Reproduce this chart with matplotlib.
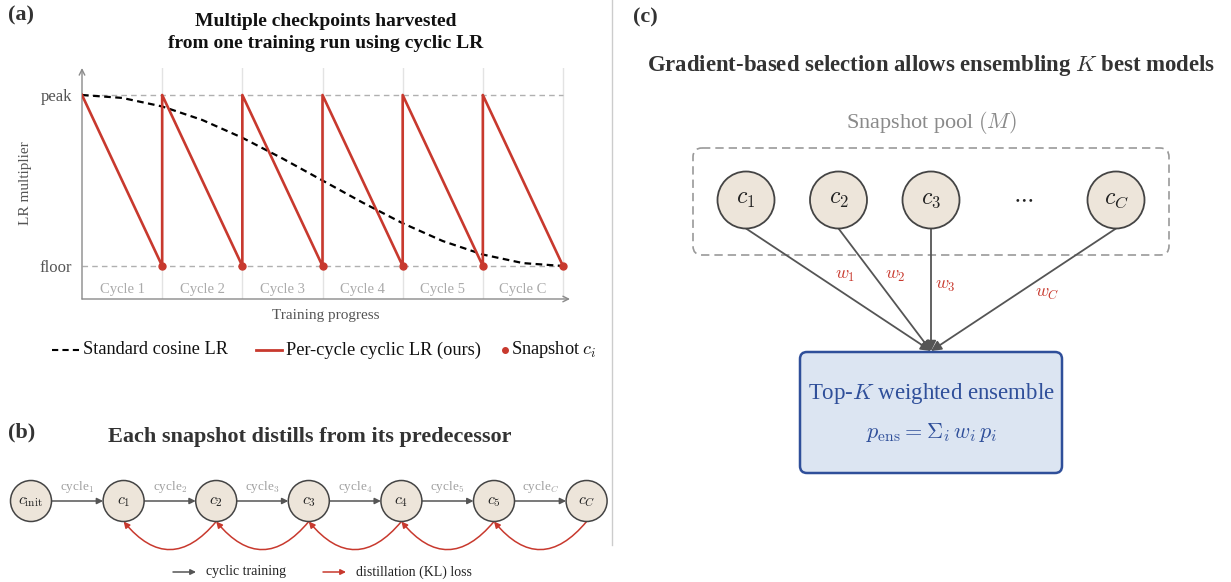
import matplotlib

matplotlib.use("Agg")
import matplotlib.pyplot as plt
from matplotlib.lines import Line2D
from matplotlib.patches import Circle, FancyArrowPatch, FancyBboxPatch

plt.rcParams["font.family"] = "serif"
plt.rcParams["font.serif"] = ["Liberation Serif", "DejaVu Serif"]
plt.rcParams["mathtext.fontset"] = "cm"

# ---- data ----
cycle_labels = ["Cycle 1", "Cycle 2", "Cycle 3", "Cycle 4", "Cycle 5", "Cycle C"]
cycle_edges = [1, 2, 3, 4, 5]
cosine_x = [0, 0.5, 1, 1.5, 2, 2.5, 3, 3.5, 4, 4.5, 5, 5.5, 6]
cosine_lr = [1.0, 0.983, 0.933, 0.854, 0.75, 0.629, 0.5, 0.371, 0.25, 0.146, 0.067, 0.017, 0.0]
cyclic_x = [0, 1, 1, 2, 2, 3, 3, 4, 4, 5, 5, 6]
cyclic_lr = [1, 0, 1, 0, 1, 0, 1, 0, 1, 0, 1, 0]
snapshot_x = [1, 2, 3, 4, 5, 6]
snapshot_lr = [0, 0, 0, 0, 0, 0]
lr_levels = [0, 1]
lr_level_names = ["floor", "peak"]

chain_nodes = [r"$c_{\mathrm{init}}$", r"$c_1$", r"$c_2$", r"$c_3$", r"$c_4$", r"$c_5$", r"$c_C$"]
chain_steps = [r"cycle$_1$", r"cycle$_2$", r"cycle$_3$", r"cycle$_4$", r"cycle$_5$", r"cycle$_C$"]
pool_nodes = [r"$c_1$", r"$c_2$", r"$c_3$", None, r"$c_C$"]
pool_weights = [r"$w_1$", r"$w_2$", r"$w_3$", None, r"$w_C$"]

RED = "#c8392e"
GRAY = "#555555"
BEIGE = "#ede5da"
BLUE = "#2f4f9a"
BLUE_FILL = "#dce5f2"
TEXT = "#333333"

W, H = 1231, 582
fig = plt.figure(figsize=(W / 100, H / 100), dpi=100)

# overlay canvas in pixel coordinates
ax0 = fig.add_axes([0, 0, 1, 1])
ax0.set_xlim(0, W)
ax0.set_ylim(H, 0)
ax0.axis("off")

# ---------------- panel (a) ----------------
x0_px, x1_px, y_top_px, y_bot_px = 82, 570, 68, 299
unit_x = (563 - 82) / 6
unit_y = 266 - 95
ax = fig.add_axes([x0_px / W, (H - y_bot_px) / H, (x1_px - x0_px) / W, (y_bot_px - y_top_px) / H])
ax.patch.set_alpha(0)
ax.set_xlim(0, (x1_px - x0_px) / unit_x)
ax.set_ylim(-(y_bot_px - 266) / unit_y, 1 + (95 - y_top_px) / unit_y)
for s in ax.spines.values():
    s.set_visible(False)

for xe in cycle_edges + [6]:
    ax.axvline(xe, color="#e3e3e3", lw=1.0, zorder=0)
for lv in lr_levels:
    ax.plot([0, 6], [lv, lv], color="#b0b0b0", lw=1.0, dashes=(4, 3), zorder=1)

ax.plot(cosine_x, cosine_lr, color="black", lw=1.6, dashes=(3, 2), zorder=3)
ax.plot(cyclic_x, cyclic_lr, color=RED, lw=1.9, zorder=4)
ax.plot(snapshot_x, snapshot_lr, "o", color=RED, ms=5, zorder=5)

for i, lab in enumerate(cycle_labels):
    ax.text(i + 0.5, -0.135, lab, ha="center", va="center", fontsize=10.5, color="#aaaaaa")

ax.set_xticks([])
ax.set_yticks(lr_levels)
ax.set_yticklabels(lr_level_names, fontsize=12, color=GRAY)
ax.tick_params(axis="y", length=0, pad=7)
ax.set_xlabel("Training progress", fontsize=11, color=GRAY, labelpad=7)
ax.set_ylabel("LR multiplier", fontsize=11, color=GRAY, labelpad=5.5)

ax.annotate("", xy=(1, 0), xytext=(0, 0), xycoords="axes fraction",
            arrowprops=dict(arrowstyle="->", color="#8a8a8a", lw=1.0, shrinkA=0, shrinkB=0))
ax.annotate("", xy=(0, 1), xytext=(0, 0), xycoords="axes fraction",
            arrowprops=dict(arrowstyle="->", color="#8a8a8a", lw=1.0, shrinkA=0, shrinkB=0))

ax0.text(8, 15, "(a)", fontsize=16, fontweight="bold", color=TEXT, ha="left", va="center")
ax0.text(326, 21, "Multiple checkpoints harvested", fontsize=14, fontweight="bold",
         color="#111111", ha="center", va="center")
ax0.text(326, 43, "from one training run using cyclic LR", fontsize=14, fontweight="bold",
         color="#111111", ha="center", va="center")

# legend of (a)
ly = 350
ax0.add_line(Line2D([52, 79], [ly, ly], color="black", lw=1.5, dashes=(3, 2)))
ax0.text(83, ly, "Standard cosine LR", fontsize=13.2, color="#111111", ha="left", va="center")
ax0.add_line(Line2D([256, 282], [ly, ly], color=RED, lw=2))
ax0.text(286, ly, "Per-cycle cyclic LR (ours)", fontsize=13.2, color="#111111", ha="left", va="center")
ax0.plot([505], [ly], "o", color=RED, ms=4)
ax0.text(511, ly, r"Snapshot $c_i$", fontsize=13.2, color="#111111", ha="left", va="center")

# divider
ax0.add_line(Line2D([612, 612], [0, 545], color="#cccccc", lw=1.0))

# ---------------- panel (b) ----------------
ax0.text(8, 432, "(b)", fontsize=16, fontweight="bold", color=TEXT, ha="left", va="center")
ax0.text(310, 437, "Each snapshot distills from its predecessor", fontsize=16, fontweight="bold",
         color=TEXT, ha="center", va="center")

cy, r_b, step_b = 501, 20.5, 92.6
chain_x = [31 + step_b * i for i in range(len(chain_nodes))]
for x, lab in zip(chain_x, chain_nodes):
    ax0.add_patch(Circle((x, cy), r_b, fc=BEIGE, ec="#444444", lw=1.1, zorder=3))
    ax0.text(x, cy, lab, fontsize=11.5, ha="center", va="center", color="#222222", zorder=4)

for i, lab in enumerate(chain_steps):
    xa, xb = chain_x[i] + r_b, chain_x[i + 1] - r_b
    ax0.add_patch(FancyArrowPatch((xa, cy), (xb, cy), arrowstyle="-|>", mutation_scale=9,
                                  color=GRAY, lw=1.1, shrinkA=0, shrinkB=0))
    ax0.text((xa + xb) / 2, cy - 14, lab, fontsize=9.5, color="#a0a0a0", ha="center", va="center")

for i in range(1, len(chain_x) - 1):
    ax0.add_patch(FancyArrowPatch((chain_x[i + 1], cy + r_b), (chain_x[i], cy + r_b),
                                  connectionstyle="arc3,rad=-0.6", arrowstyle="-|>",
                                  mutation_scale=9, color=RED, lw=1.1, shrinkA=0, shrinkB=0))

lg = 572
ax0.add_patch(FancyArrowPatch((173, lg), (196, lg), arrowstyle="-|>", mutation_scale=8,
                              color=GRAY, lw=1.1, shrinkA=0, shrinkB=0))
ax0.text(206, lg, "cyclic training", fontsize=10, color="#222222", ha="left", va="center")
ax0.add_patch(FancyArrowPatch((323, lg), (346, lg), arrowstyle="-|>", mutation_scale=8,
                              color=RED, lw=1.1, shrinkA=0, shrinkB=0))
ax0.text(356, lg, "distillation (KL) loss", fontsize=10, color="#222222", ha="left", va="center")

# ---------------- panel (c) ----------------
ax0.text(633, 17, "(c)", fontsize=16, fontweight="bold", color=TEXT, ha="left", va="center")
ax0.text(931, 66, r"Gradient-based selection allows ensembling $K$ best models", fontsize=16.4,
         fontweight="bold", color=TEXT, ha="center", va="center")
ax0.text(931, 122, r"Snapshot pool $(M)$", fontsize=16, color="#8a8a8a", ha="center", va="center")

ax0.add_patch(FancyBboxPatch((693, 148), 476, 107, boxstyle="round,pad=0,rounding_size=9",
                             fc="none", ec="#999999", lw=1.2, ls=(0, (5, 3))))

py, r_c, tip = 200, 28.5, (931, 351)
pool_x = [746 + 92.5 * i for i in range(len(pool_nodes))]
w_offsets = [(845, 276), (895, 276), (945, 285), None, (1047, 293)]
for x, lab, wl, wpos in zip(pool_x, pool_nodes, pool_weights, w_offsets):
    if lab is None:
        ax0.text(x, py, r"$\cdots$", fontsize=16, ha="center", va="center", color="#222222")
        continue
    ax0.add_patch(Circle((x, py), r_c, fc=BEIGE, ec="#444444", lw=1.3, zorder=3))
    ax0.text(x, py, lab, fontsize=17, ha="center", va="center", color="#222222", zorder=4)
    ax0.add_patch(FancyArrowPatch((x, py + r_c), tip, arrowstyle="-|>", mutation_scale=15,
                                  color=GRAY, lw=1.3, shrinkA=0, shrinkB=0, zorder=2))
    ax0.text(wpos[0], wpos[1], wl, fontsize=13, color=RED, ha="center", va="center")

ax0.add_patch(FancyBboxPatch((800, 352), 262, 121, boxstyle="round,pad=0,rounding_size=7",
                             fc=BLUE_FILL, ec=BLUE, lw=1.8, zorder=3))
ax0.text(931, 393, r"Top-$K$ weighted ensemble", fontsize=16.5, color=BLUE, ha="center",
         va="center", zorder=4)
ax0.text(931, 432, r"$p_{\mathrm{ens}} = \Sigma_i\, w_i\, p_i$", fontsize=16, color=BLUE,
         ha="center", va="center", zorder=4)

fig.savefig("out.png", dpi=100)
